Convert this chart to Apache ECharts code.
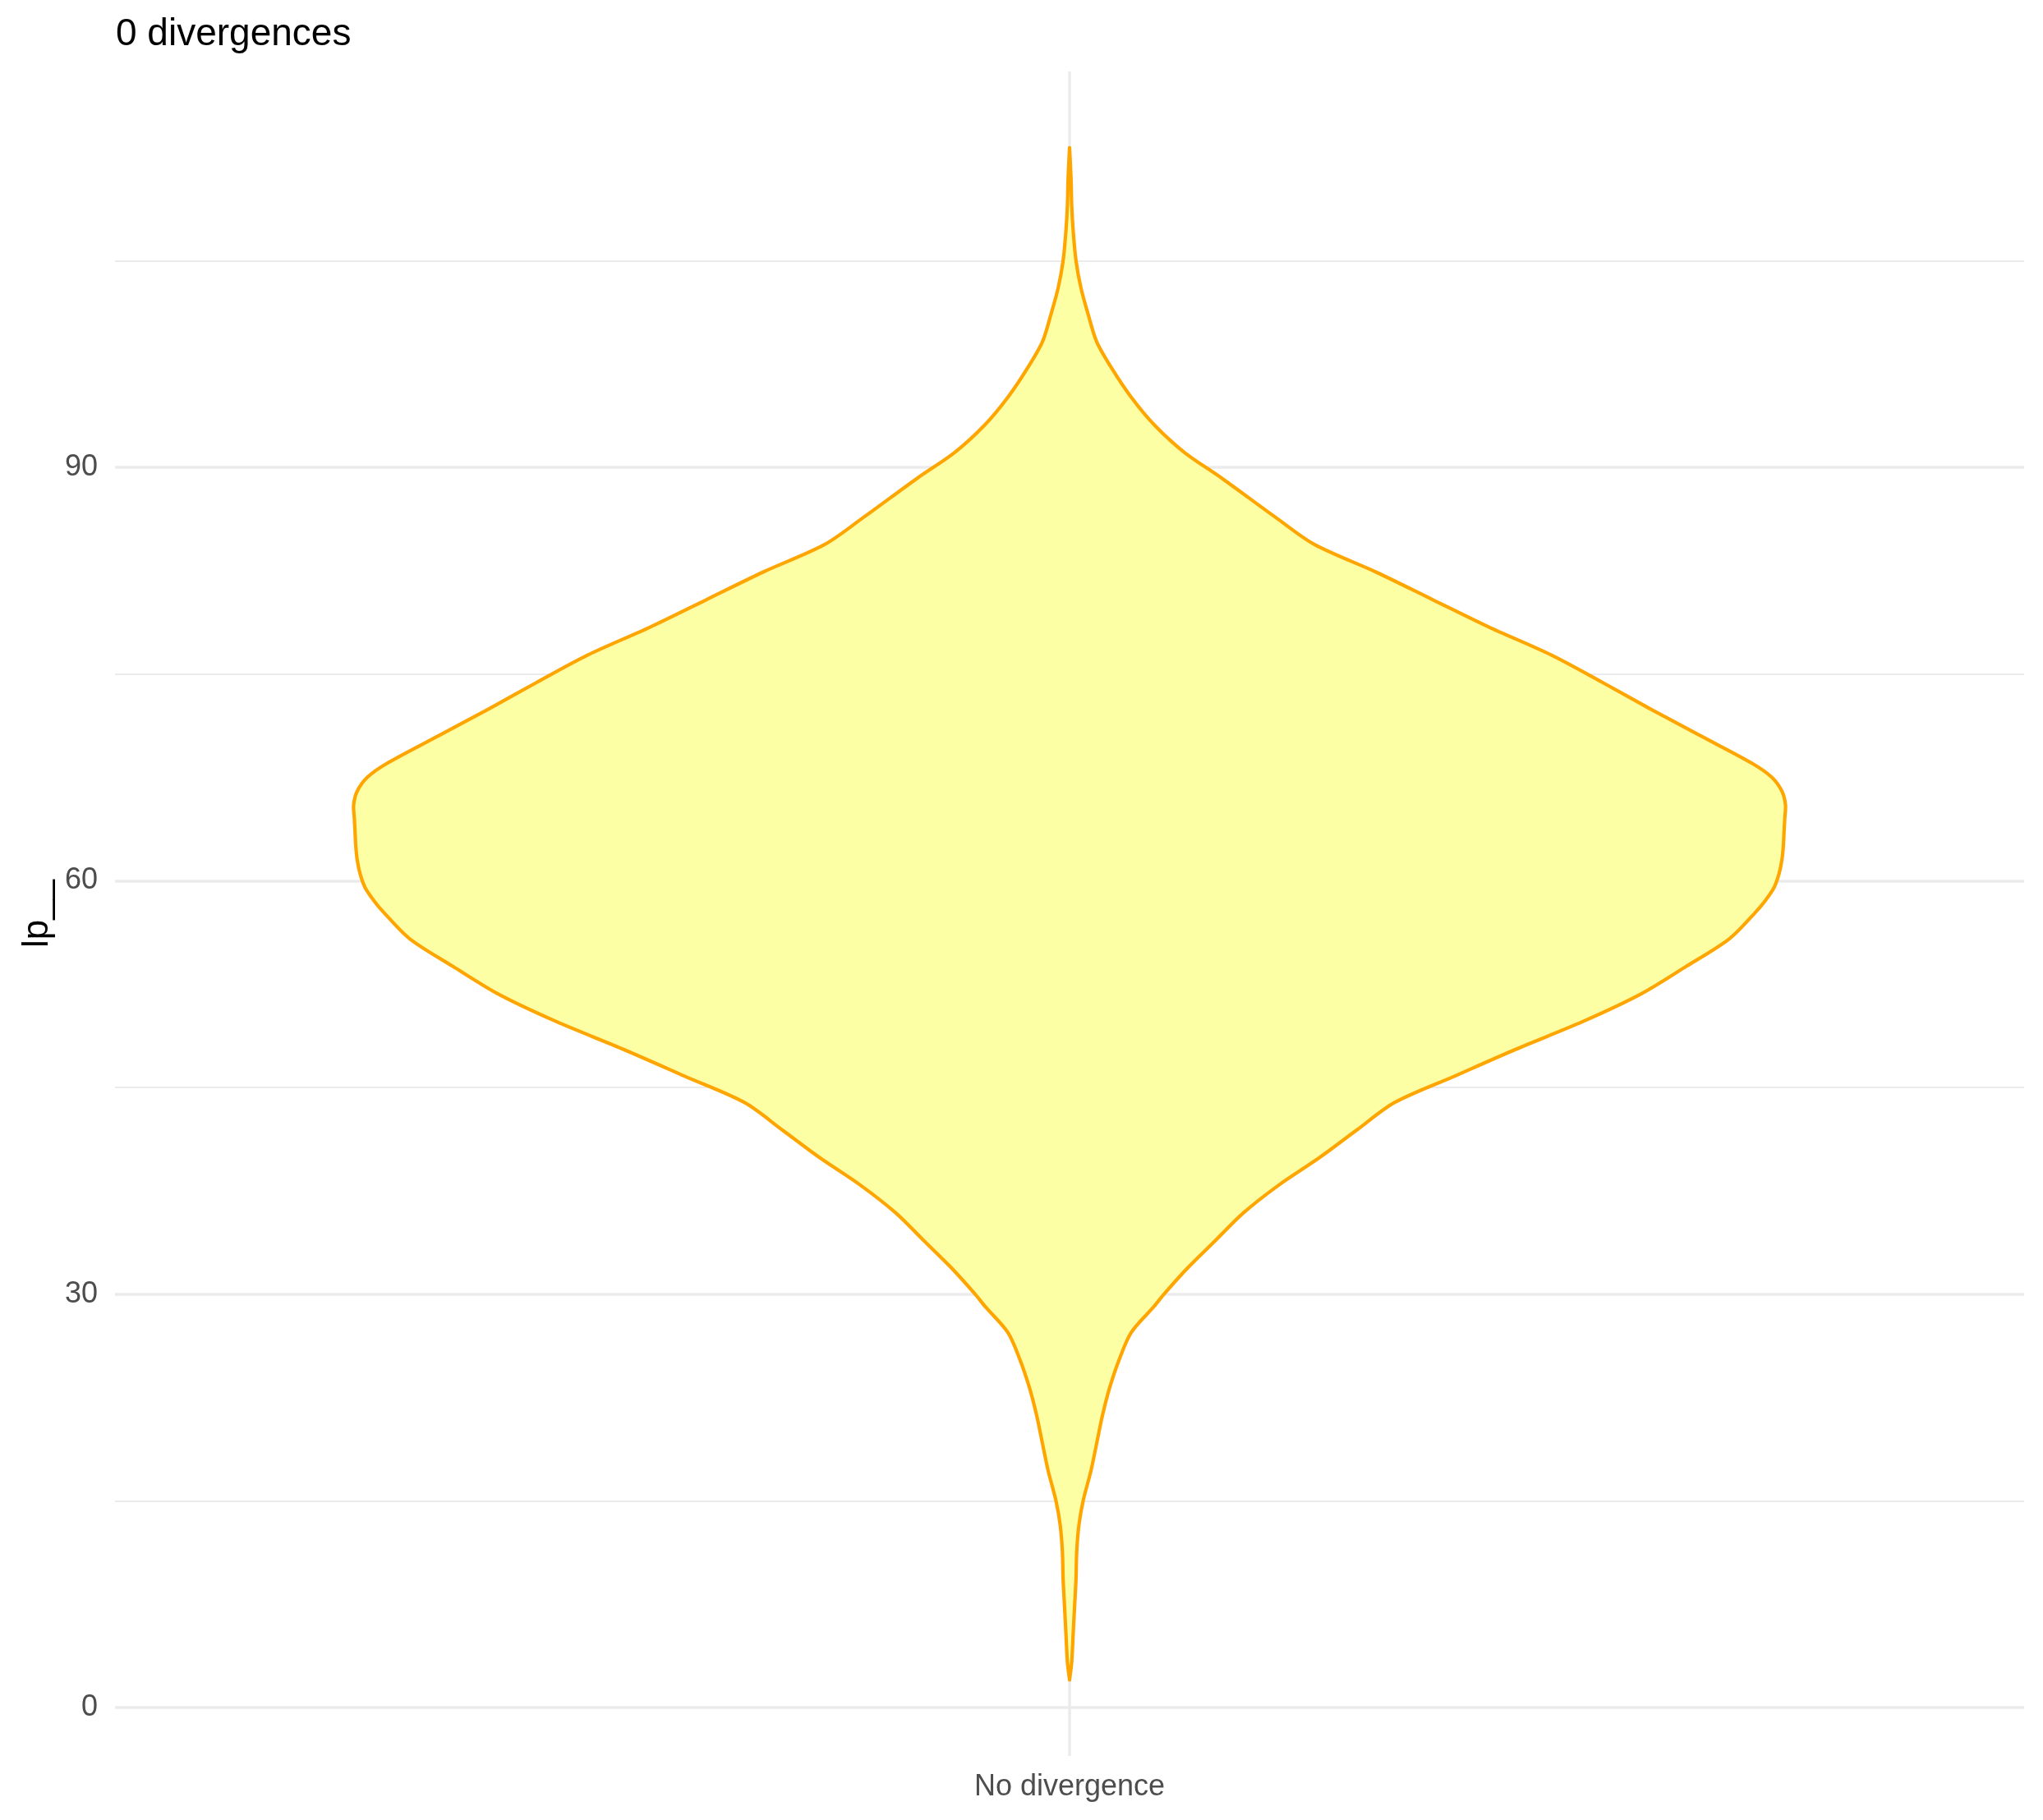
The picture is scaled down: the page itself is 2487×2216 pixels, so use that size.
<!DOCTYPE html>
<html><head><meta charset="utf-8">
<script src="https://cdn.jsdelivr.net/npm/echarts@6/dist/echarts.min.js"></script>
<style>html,body{margin:0;padding:0;background:#fff}#c{width:2487px;height:2216px}</style>
</head><body><div id="c"></div>
<script>
const categories = ['No divergence'];
const titleText = '0 divergences';
const yAxisTitle = 'lp__';
const majorTicks = [0, 30, 60, 90];
const minorTicks = [15, 45, 75, 105];
// lp__ value along violin (top to bottom)
const violinY = [113.2, 111, 109, 107.2, 105, 103, 101.1, 99.1, 97.1, 95.1, 93.1, 91.1, 89.2, 86.4, 84.4, 82.4, 80.4, 78.4, 76.4, 74.4, 72.5, 70.5, 68.5, 67.5, 66.5, 65.5, 64.5, 63.5, 62.5, 61.5, 60.5, 59.5, 58.5, 57.7, 55.8, 53.8, 51.8, 49.8, 47.8, 45.8, 43.9, 41.9, 39.9, 37.9, 35.9, 33.9, 31.9, 30.0, 29.1, 27.2, 25.2, 23.2, 21.2, 19.2, 17.2, 15.0, 13.2, 11.3, 9.3, 7.3, 5.3, 3.3, 2.0];
// relative density (scaled width, max = 1)
const violinWidth = [0, 0.002, 0.003, 0.005, 0.009, 0.016, 0.026, 0.038, 0.060, 0.086, 0.118, 0.160, 0.213, 0.287, 0.342, 0.428, 0.507, 0.586, 0.672, 0.744, 0.810, 0.882, 0.954, 0.981, 0.995, 1.000, 0.999, 0.998, 0.997, 0.995, 0.991, 0.984, 0.971, 0.958, 0.922, 0.862, 0.799, 0.718, 0.625, 0.537, 0.454, 0.401, 0.349, 0.292, 0.243, 0.204, 0.165, 0.132, 0.118, 0.086, 0.069, 0.056, 0.046, 0.038, 0.030, 0.019, 0.013, 0.010, 0.009, 0.007, 0.005, 0.003, 0];

const FONT = 'Liberation Sans';
const chart = echarts.init(document.getElementById('c'), null, {renderer: 'canvas'});
const markData = [];
majorTicks.forEach(v => markData.push({yAxis: v, lineStyle: {width: 3.5}, label: {show: true}}));
minorTicks.forEach(v => markData.push({yAxis: v, lineStyle: {width: 2}, label: {show: false}}));
markData.push({xAxis: categories[0], lineStyle: {width: 3.5}, label: {show: false}});

chart.setOption({
  animation: false,
  backgroundColor: '#ffffff',
  title: {
    text: titleText, left: 136, top: 14,
    textStyle: {fontFamily: FONT, fontSize: 46, fontWeight: 'normal', color: '#000000'}
  },
  grid: {left: 140, right: 23, top: 87, bottom: 78},
  xAxis: {
    type: 'category', data: categories, boundaryGap: true,
    axisLine: {show: false}, axisTick: {show: false}, splitLine: {show: false},
    axisLabel: {fontFamily: FONT, fontSize: 36, color: '#4D4D4D', margin: 20}
  },
  yAxis: {
    type: 'value', min: -3.52, max: 118.73,
    axisLine: {show: false}, axisTick: {show: false}, splitLine: {show: false},
    axisLabel: {show: false},
    name: yAxisTitle, nameLocation: 'middle', nameRotate: 90, nameGap: 72,
    nameTextStyle: {fontFamily: FONT, fontSize: 44, color: '#000000'}
  },
  series: [
    {
      type: 'line', data: [], z: 1, silent: true,
      markLine: {
        silent: true, symbol: ['none', 'none'], animation: false, z: 1,
        lineStyle: {color: '#EBEBEB', type: 'solid', width: 3.5},
        label: {position: 'start', formatter: p => String(p.value), color: '#4D4D4D', fontSize: 36, fontFamily: FONT, distance: 21},
        data: markData
      }
    },
    {
      type: 'custom', z: 3, silent: true,
      data: violinY.map((y, i) => [0, y, violinWidth[i]]),
      renderItem: function (params, api) {
        if (params.dataIndex !== 0) return null;
        const band = api.size([1, 0])[0];
        const half = band * 0.375;
        const cx = api.coord([0, 0])[0];
        const right = [], left = [];
        for (let i = 0; i < violinY.length; i++) {
          const p = api.coord([0, violinY[i]]);
          right.push([cx + violinWidth[i] * half, p[1]]);
        }
        for (let i = violinY.length - 1; i >= 0; i--) {
          const p = api.coord([0, violinY[i]]);
          left.push([cx - violinWidth[i] * half, p[1]]);
        }
        return {
          type: 'polygon',
          shape: {points: right.concat(left), smooth: 0.3},
          style: {fill: '#FCFFA4', stroke: '#FFA500', lineWidth: 4.2, lineJoin: 'round'}
        };
      }
    }
  ]
});
</script>
</body></html>
